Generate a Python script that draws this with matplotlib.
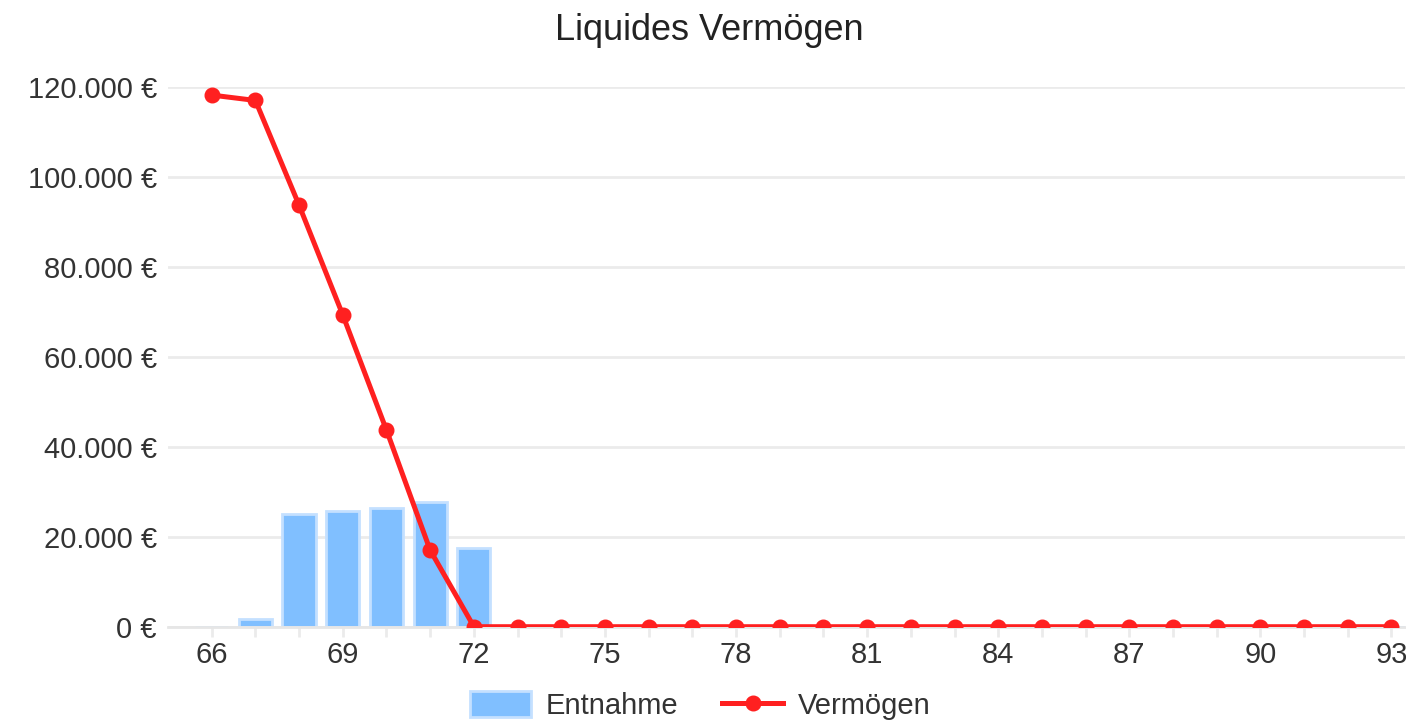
import matplotlib
matplotlib.use('Agg')

import matplotlib.pyplot as plt
from matplotlib.ticker import FuncFormatter, MultipleLocator

plt.rcParams['font.family'] = ['Liberation Sans', 'DejaVu Sans']

# ---------------- DATA ----------------
ages = list(range(66, 94))
entnahme = [0, 1800, 25100, 25800, 26400, 27700, 17600] + [0] * 21
vermoegen = [118200, 117000, 93700, 69300, 43700, 17000] + [0] * 22

# ---------------- PLOT ----------------
fig = plt.figure(figsize=(14.06, 7.23), dpi=100)
ax = fig.add_axes([0.1195, 0.1332, 0.8795, 0.7465])

bars = ax.bar(ages, entnahme, width=0.76, color='#80bfff', edgecolor='#c4e0ff',
              linewidth=2, label='Entnahme', zorder=2)
line, = ax.plot(ages, vermoegen, color='#ff2020', linewidth=3.6, marker='o',
                markersize=10.5, label='Vermögen', zorder=3)

ax.set_xlim(65.0, 93.3)
ax.set_ylim(0, 120000)

ax.yaxis.set_major_locator(MultipleLocator(20000))
ax.yaxis.set_major_formatter(FuncFormatter(lambda v, p: f"{int(v):,} €".replace(',', '.')))
ax.set_xticks(ages)
ax.set_xticklabels([str(a) if (a - 66) % 3 == 0 else '' for a in ages])

ax.grid(axis='y', color='#ebebeb', linewidth=2, zorder=0)
for s in ['top', 'right', 'left']:
    ax.spines[s].set_visible(False)
ax.spines['bottom'].set_color('#e6e6e6')
ax.spines['bottom'].set_linewidth(2)

ax.tick_params(axis='y', length=0, labelsize=21, labelcolor='#333333', pad=8)
ax.tick_params(axis='x', length=7, width=2, color='#ebebeb', labelsize=21,
               labelcolor='#333333', pad=3)

fig.text(0.5045, 0.958, 'Liquides Vermögen', fontsize=26, color='#222222',
         ha='center', va='center')

fig.legend([bars, line], ['Entnahme', 'Vermögen'], loc='center',
           bbox_to_anchor=(0.498, 0.024), ncol=2, frameon=False,
           fontsize=21, handlelength=2.1, handleheight=1.0, handletextpad=0.5,
           columnspacing=1.5, labelcolor='#333333')

fig.savefig('out.png', dpi=100)
